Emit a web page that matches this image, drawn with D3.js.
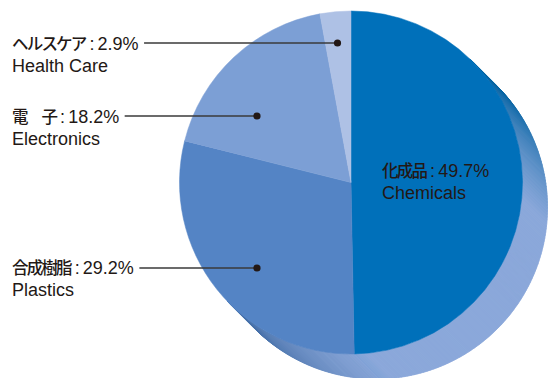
<!DOCTYPE html>
<html><head><meta charset="utf-8">
<script src="https://cdn.jsdelivr.net/npm/d3@7"></script>
<style>
html,body{margin:0;padding:0;background:#fff;}
svg{display:block;}
</style></head>
<body>
<script>
// ---- data ----
const categoriesJa = ["化成品", "合成樹脂", "電　子", "ヘルスケア"];
const categoriesEn = ["Chemicals", "Plastics", "Electronics", "Health Care"];
const values = [49.7, 29.2, 18.2, 2.9];
const colors = ["#0070ba", "#5484c5", "#7c9fd5", "#aec1e5"];

// ---- layout ----
const W = 548, H = 378;
const cx = 351, cy = 182.5, R = 171.5;
const depth = 25;
const sideLight = "#8ba8da";
const labelLayout = [
  {x: 382, y1: 177, y2: 198.5, lineY: null, dotX: null},
  {x: 12, y1: 274, y2: 296, lineY: 268, dotX: 257},
  {x: 12, y1: 122.5, y2: 145, lineY: 116, dotX: 257},
  {x: 12, y1: 50, y2: 72, lineY: 43, dotX: 337.5}
];
const textColor = "#231815";

const svg = d3.select("body").append("svg").attr("width", W).attr("height", H);

const data = values.map((v, i) => ({ja: categoriesJa[i], en: categoriesEn[i], value: v, color: colors[i], layout: labelLayout[i]}));
const pie = d3.pie().sort(null).value(d => d.value).startAngle(0).endAngle(2 * Math.PI);
const arcs = pie(data);
const arc = d3.arc().innerRadius(0).outerRadius(R);

// ---- extrusion (side) ----
const side = svg.append("g").attr("transform", `translate(${cx},${cy})`);
const step = Math.PI / 360;
const pt = a => [R * Math.sin(a), -R * Math.cos(a)];
const segs = [];
arcs.forEach(a => {
  const base = d3.color(a.data.color).darker(0.4);
  const lo = Math.max(a.startAngle, Math.PI / 4 - 0.02), hi = Math.min(a.endAngle, Math.PI * 1.25 + 0.02);
  if (hi <= lo) return;
  for (let t = lo; t < hi; t += step) {
    const t2 = Math.min(t + step * 1.5, hi);
    const s = Math.max(0, Math.min(1, Math.sin(t - Math.PI / 4) * 1.3));
    const c = d3.interpolateRgb(base, sideLight)(Math.pow(s, 1.3));
    const p1 = pt(t), p2 = pt(t2);
    segs.push({poly: [p1, p2, [p2[0] + depth, p2[1] + depth], [p1[0] + depth, p1[1] + depth]], c});
  }
});
side.selectAll("path.side").data(segs).join("path")
  .attr("class", "side")
  .attr("d", d => "M" + d.poly.map(p => p.join(",")).join("L") + "Z")
  .attr("fill", d => d.c)
  .attr("stroke", d => d.c)
  .attr("stroke-width", 0.6);

// ---- front face ----
const face = svg.append("g").attr("transform", `translate(${cx},${cy})`);
face.selectAll("path.slice").data(arcs).join("path")
  .attr("class", "slice")
  .attr("d", arc)
  .attr("fill", d => d.data.color)
  .attr("stroke", d => d.data.color)
  .attr("stroke-width", 0.5);

// ---- labels ----
const lab = svg.append("g");
data.forEach(d => {
  const L = d.layout;
  const t = lab.append("text").attr("x", L.x).attr("y", L.y1).attr("fill", textColor);
  t.append("tspan").attr("font-family", "'Noto Sans CJK JP', sans-serif").attr("font-size", 16.5)
    .attr("font-weight", 500).attr("letter-spacing", -1.8).text(d.ja);
  t.append("tspan").attr("font-family", "'Liberation Sans', Arial, sans-serif").attr("font-size", 18).attr("dx", 4).text(":");
  t.append("tspan").attr("font-family", "'Liberation Sans', Arial, sans-serif").attr("font-size", 18).attr("dx", 3).text(d.value.toFixed(1) + "%");
  lab.append("text").attr("x", L.x).attr("y", L.y2).attr("fill", textColor)
    .attr("font-family", "'Liberation Sans', Arial, sans-serif").attr("font-size", 18).text(d.en);
  if (L.lineY !== null) {
    const bb = t.node().getBBox();
    const x0 = bb.x + bb.width + 5.5;
    lab.append("line").attr("x1", x0).attr("x2", L.dotX).attr("y1", L.lineY).attr("y2", L.lineY)
      .attr("stroke", "#3a3a3a").attr("stroke-width", 1.3);
    lab.append("circle").attr("cx", L.dotX).attr("cy", L.lineY).attr("r", 3.6).attr("fill", "#231815");
  }
});
</script>
</body></html>
